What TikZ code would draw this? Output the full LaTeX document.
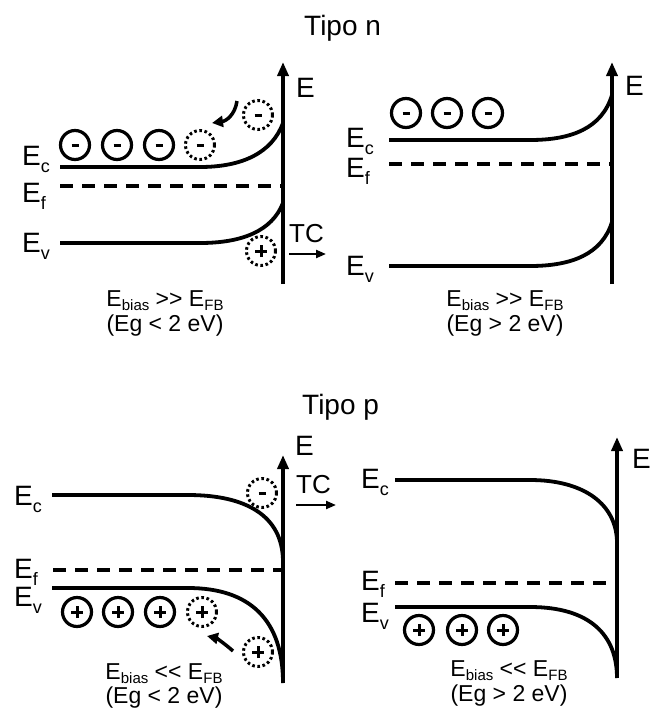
\documentclass[tikz,border=0pt]{standalone}
\usepackage{fontspec}
\setmainfont{Liberation Sans}
\usetikzlibrary{arrows.meta}
\newcommand\lowsub[1]{\raisebox{-7pt}{\fontsize{18}{18}\selectfont #1}}
\newcommand\capsub[1]{\raisebox{-4pt}{\fontsize{15}{15}\selectfont #1}}
\tikzset{
  band/.style={line width=3.8pt},
  fermi/.style={line width=3.8pt, dash pattern=on 13pt off 9pt},
  axis/.style={line width=3.8pt, -{Triangle[width=11pt,length=14pt]}},
  tcarrow/.style={line width=2.2pt, -{Triangle[width=8pt,length=10pt]}},
  movearrow/.style={line width=3.5pt, -{Triangle[width=11pt,length=11pt]}},
  carrier/.style={circle, draw, line width=3.2pt, minimum size=29pt, inner sep=0pt},
  dcarrier/.style={circle, draw, line width=3pt, dash pattern=on 2.6pt off 2.6pt, minimum size=29pt, inner sep=0pt},
  minussign/.style={path picture={\draw[solid,line width=3pt] ([xshift=-3.5pt]path picture bounding box.center) -- ([xshift=3.5pt]path picture bounding box.center);}},
  plussign/.style={path picture={\draw[solid,line width=3pt] ([xshift=-6pt]path picture bounding box.center) -- ([xshift=6pt]path picture bounding box.center) ([yshift=-6pt]path picture bounding box.center) -- ([yshift=6pt]path picture bounding box.center);}},
  lab/.style={font=\fontsize{28}{32}\selectfont, inner sep=0pt, anchor=base west},
  tclab/.style={font=\fontsize{26}{30}\selectfont, inner sep=0pt, anchor=base west},
  captext/.style={font=\fontsize{23}{26}\selectfont, inner sep=0pt, anchor=base},
  titletext/.style={font=\fontsize{28}{32}\selectfont, inner sep=0pt, anchor=base west},
}
\begin{document}
\begin{tikzpicture}[x=1pt,y=-1pt]
\useasboundingbox (0,0) rectangle (651,710);
% titles
\node[titletext] (tn) at (304,35) {Tipo n};
\node[titletext] (tp) at (302,414) {Tipo p};

% ---------- Panel 1 (n, Eg<2) ----------
\draw[axis] (283,284) -- (283,62);
\node[lab] (e1) at (296,97) {E};
\draw[band] (60,167) -- (200,167) .. controls (242,167) and (272,153) .. (283,123);
\draw[fermi] (60,186) -- (283,186);
\draw[band] (60,243) -- (200,243) .. controls (242,243) and (272,231) .. (283,203);
\node[lab] at (22,165) {E\lowsub{c}};
\node[lab] at (22,202) {E\lowsub{f}};
\node[lab] at (22,252) {E\lowsub{v}};
\node[carrier,minussign] (n1a) at (75,145) {};
\node[carrier,minussign] (n1b) at (117,145) {};
\node[carrier,minussign] (n1c) at (159,145) {};
\node[dcarrier,minussign] (n1d) at (200,145) {};
\node[dcarrier,minussign] (n1e) at (258,115) {};
\node[dcarrier,plussign] (p1) at (261,251) {};
\coordinate (a1s) at (237,101);
\coordinate (a1e) at (212,123);
\draw[movearrow] (a1s) .. controls (235,115) and (226,121) .. (a1e);
\node[tclab] (tc1) at (289,242) {TC};
\coordinate (t1s) at (289,254);
\coordinate (t1e) at (326,254);
\draw[tcarrow] (t1s) -- (t1e);
\node[captext] at (165,306) {E\capsub{bias} >\kern0pt> E\capsub{FB}};
\node[captext] at (165,331) {(Eg < 2 eV)};

% ---------- Panel 2 (n, Eg>2) ----------
\draw[axis] (612,284) -- (612,62);
\node[lab] (e2) at (625,95) {E};
\draw[band] (389,140) -- (530,140) .. controls (572,140) and (602,128) .. (612,95);
\draw[fermi] (389,164) -- (612,164);
\draw[band] (389,266) -- (530,266) .. controls (572,266) and (602,254) .. (612,222);
\node[lab] at (346,147) {E\lowsub{c}};
\node[lab] at (346,177) {E\lowsub{f}};
\node[lab] at (346,275) {E\lowsub{v}};
\node[carrier,minussign] (n2a) at (406,113) {};
\node[carrier,minussign] (n2b) at (447,113) {};
\node[carrier,minussign] (n2c) at (488,113) {};
\node[captext] at (505,306) {E\capsub{bias} >\kern0pt> E\capsub{FB}};
\node[captext] at (505,331) {(Eg > 2 eV)};

% ---------- Panel 3 (p, Eg<2) ----------
\draw[axis] (283,683) -- (283,455);
\node[lab] (e3) at (295,455) {E};
\draw[band] (52,495) -- (188,495) .. controls (245,495) and (283,515) .. (283,562);
\draw[fermi] (53,570) -- (283,570);
\draw[band] (52,588) -- (188,588) .. controls (250,588) and (283,620) .. (283,683);
\node[lab] at (14,505) {E\lowsub{c}};
\node[lab] at (14,578) {E\lowsub{f}};
\node[lab] at (14,606) {E\lowsub{v}};
\node[carrier,plussign] (p3a) at (77,612) {};
\node[carrier,plussign] (p3b) at (118,612) {};
\node[carrier,plussign] (p3c) at (160,612) {};
\node[dcarrier,plussign] (p3d) at (202,612) {};
\node[dcarrier,plussign] (p3e) at (258,652) {};
\node[dcarrier,minussign] (n3) at (262,493) {};
\coordinate (a3s) at (233,651);
\coordinate (a3e) at (207,636);
\draw[movearrow] (a3s) .. controls (224,643) and (216,638) .. (a3e);
\node[tclab] (tc3) at (296,493) {TC};
\coordinate (t3s) at (296,505);
\coordinate (t3e) at (336,505);
\draw[tcarrow] (t3s) -- (t3e);
\node[captext] at (164,679) {E\capsub{bias} <\kern0pt< E\capsub{FB}};
\node[captext] at (164,703) {(Eg < 2 eV)};

% ---------- Panel 4 (p, Eg>2) ----------
\draw[axis] (617,678) -- (617,437);
\node[lab] (e4) at (632,468) {E};
\draw[band] (395,480) -- (530,480) .. controls (585,480) and (617,505) .. (617,543);
\draw[fermi] (395,583) -- (617,583);
\draw[band] (395,607) -- (530,607) .. controls (590,607) and (617,635) .. (617,678);
\node[lab] at (361,488) {E\lowsub{c}};
\node[lab] at (361,590) {E\lowsub{f}};
\node[lab] at (361,622) {E\lowsub{v}};
\node[carrier,plussign] (p4a) at (419,630) {};
\node[carrier,plussign] (p4b) at (462,630) {};
\node[carrier,plussign] (p4c) at (503,630) {};
\node[captext] at (509,676) {E\capsub{bias} <\kern0pt< E\capsub{FB}};
\node[captext] at (509,701) {(Eg > 2 eV)};
\end{tikzpicture}
\end{document}
